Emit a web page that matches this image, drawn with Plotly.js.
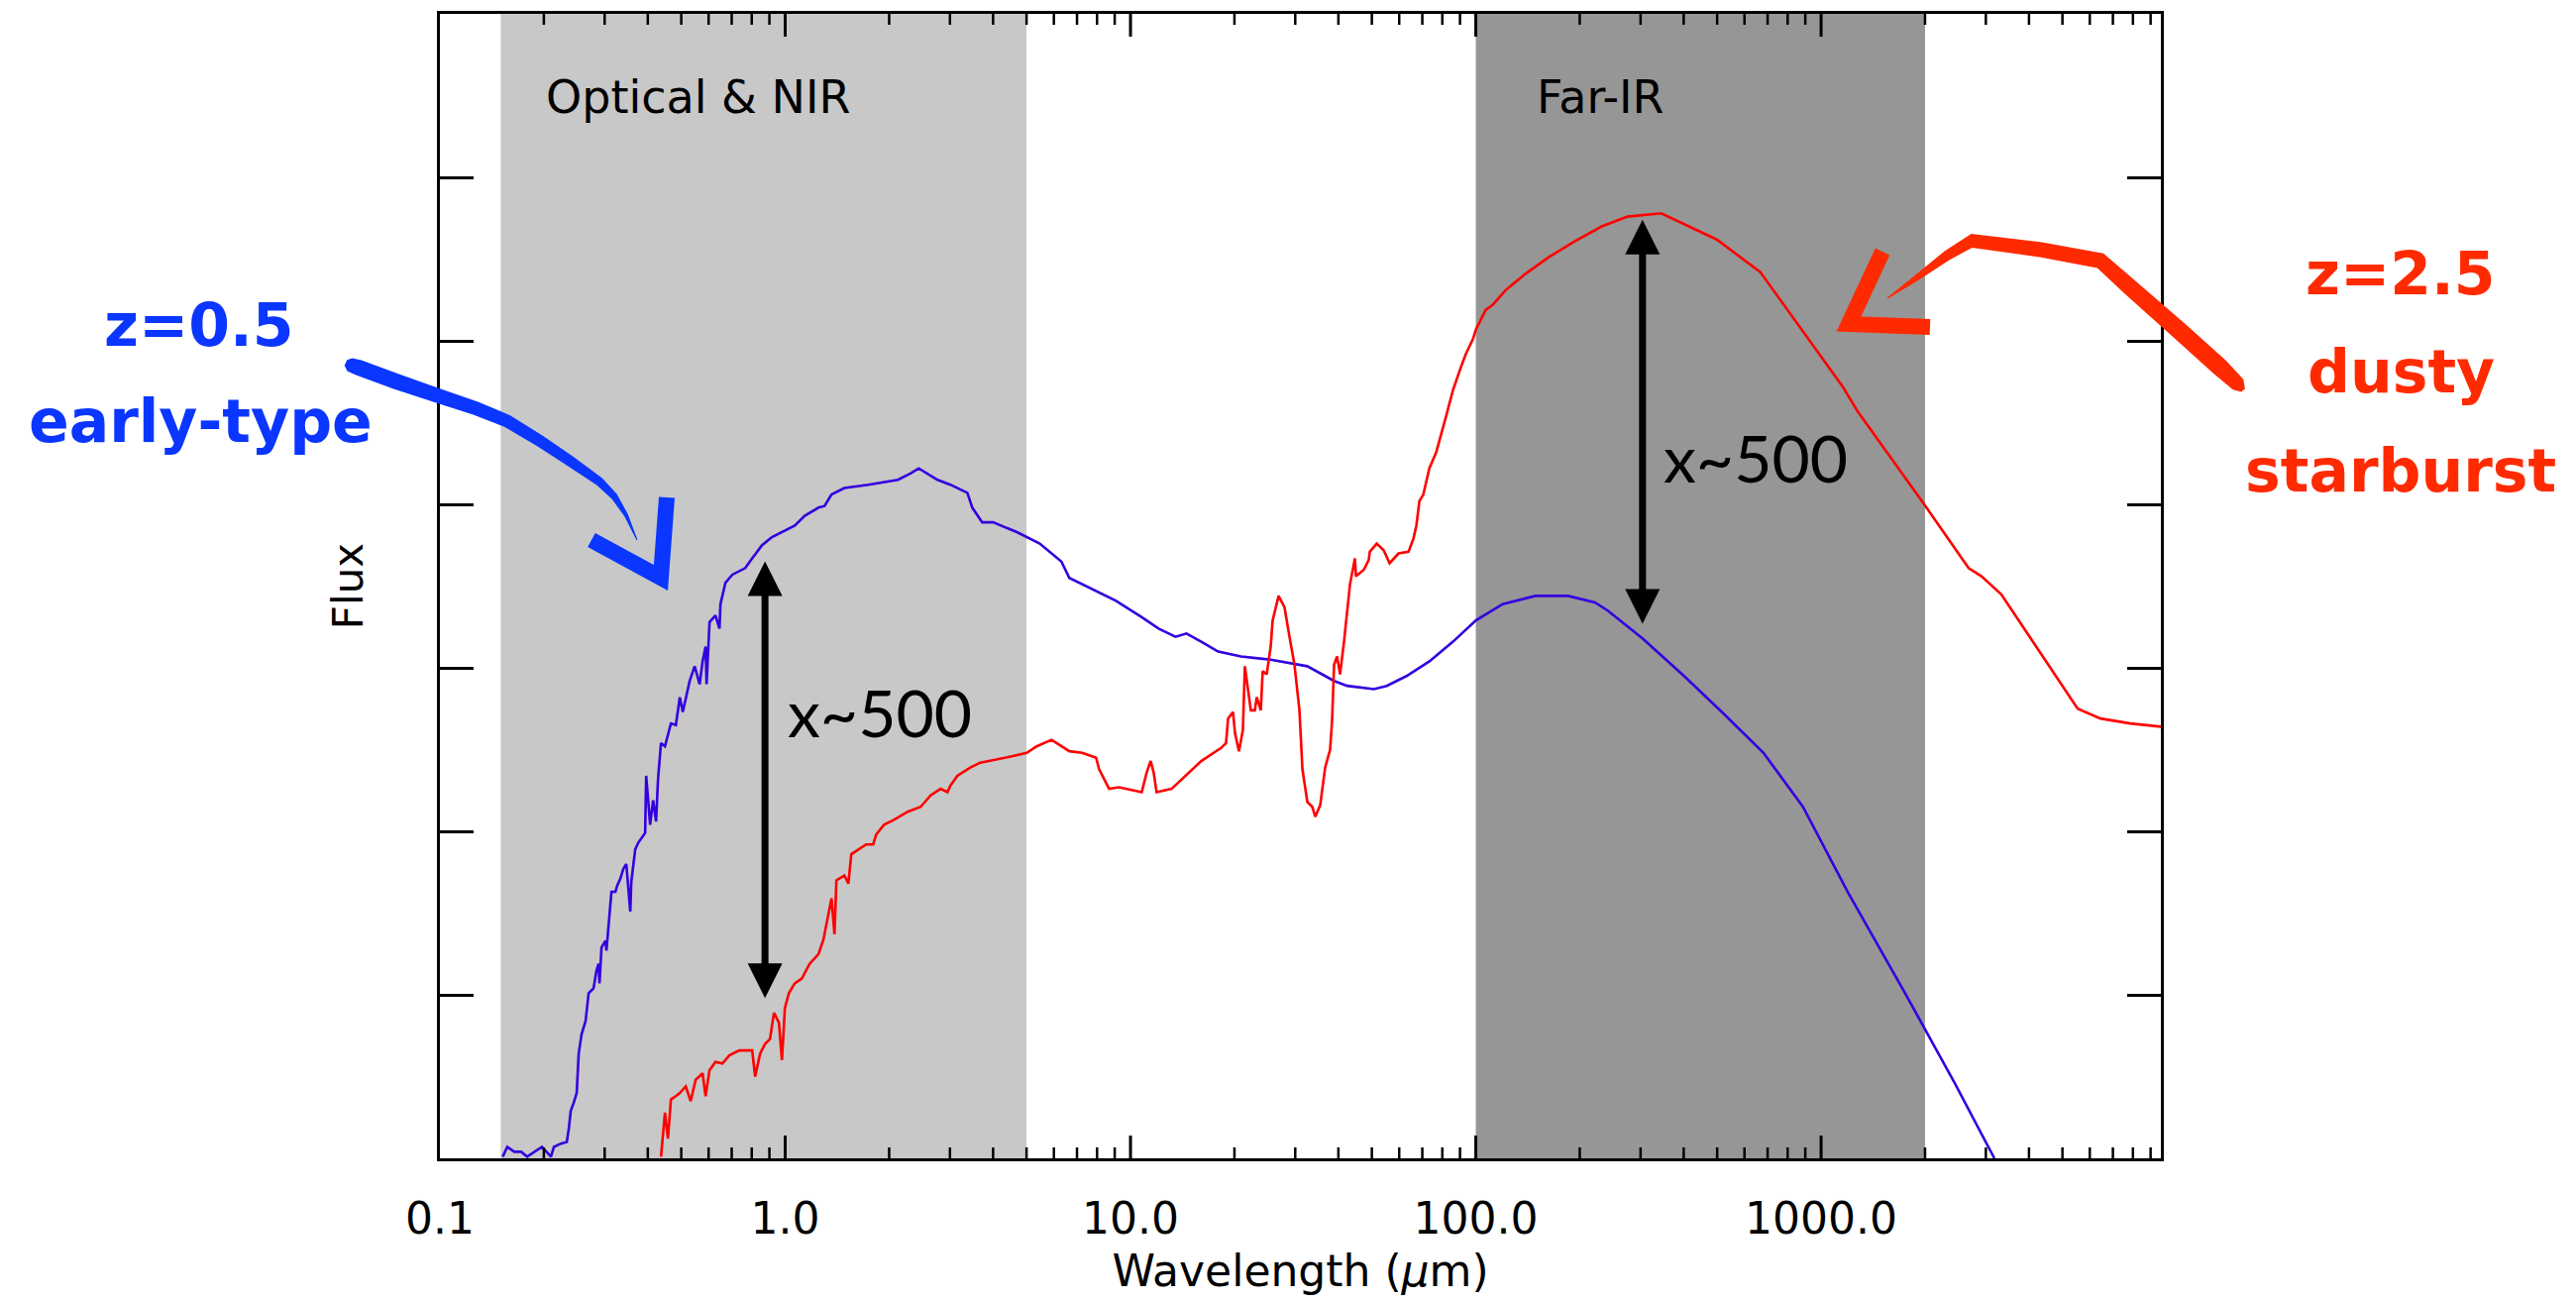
<!DOCTYPE html>
<html>
<head>
<meta charset="utf-8">
<script src="https://cdn.plot.ly/plotly-3.0.1.min.js"></script>
<style>
  html, body { margin: 0; padding: 0; background: #ffffff; }
  #chart { width: 2600px; height: 1314px; }
</style>
</head>
<body>
<div id="chart"></div>
<script>
// Spectral energy distributions: wavelength in microns, flux as log10 (arbitrary units)
const earlyWavelength = [
  0.152, 0.1567, 0.1642, 0.1719, 0.1789, 0.1874, 0.1975, 0.2097, 0.2139, 0.224,
  0.2331, 0.2362, 0.2393, 0.2441, 0.249, 0.2523, 0.2573, 0.2642, 0.2696, 0.2786,
  0.2842, 0.288, 0.2899, 0.2938, 0.3017, 0.3036, 0.3077, 0.3139, 0.3223, 0.3265,
  0.3331, 0.3397, 0.3466, 0.3559, 0.3583, 0.3679, 0.3753, 0.393, 0.3957, 0.4063,
  0.4144, 0.4227, 0.4283, 0.4368, 0.4485, 0.4667, 0.4823, 0.4952, 0.5051, 0.529,
  0.5468, 0.5652, 0.5765, 0.5881, 0.592, 0.6038, 0.6283, 0.6451, 0.6494, 0.6712,
  0.703, 0.7362, 0.7661, 0.8024, 0.857, 0.9157, 0.998, 1.066, 1.139, 1.249,
  1.300, 1.362, 1.484, 1.739, 2.121, 2.311, 2.436, 2.762, 3.010, 3.369,
  3.482, 3.720, 4.000, 4.688, 5.458, 6.31, 6.65, 7.60, 9.08, 10.78,
  12.06, 13.50, 14.52, 16.03, 17.94, 20.89, 25.47, 32.5, 38.9, 42.4,
  50.7, 55.2, 63.0, 73.4, 85.9, 100.1, 119.6, 148.8, 185.1, 221.2,
  241.1, 303.8, 401.1, 522, 681, 886, 1194, 1751, 2438, 3176
];
const earlyLogFlux = [
  0.01, 0.07, 0.04, 0.04, 0.01, 0.04, 0.07, 0.01, 0.07, 0.09,
  0.10, 0.18, 0.29, 0.34, 0.40, 0.64, 0.76, 0.84, 1.01, 1.04,
  1.15, 1.19, 1.07, 1.29, 1.33, 1.27, 1.41, 1.63, 1.63, 1.67,
  1.71, 1.77, 1.80, 1.51, 1.69, 1.89, 1.93, 1.99, 2.34, 2.04,
  2.19, 2.06, 2.32, 2.54, 2.52, 2.66, 2.65, 2.82, 2.73, 2.92,
  3.01, 2.90, 3.04, 3.13, 2.90, 3.28, 3.32, 3.24, 3.39, 3.52,
  3.57, 3.59, 3.61, 3.67, 3.75, 3.80, 3.84, 3.87, 3.93, 3.98,
  3.99, 4.06, 4.10, 4.12, 4.15, 4.19, 4.22, 4.15, 4.12, 4.07,
  3.98, 3.89, 3.89, 3.83, 3.76, 3.65, 3.55, 3.49, 3.41, 3.31,
  3.24, 3.19, 3.21, 3.16, 3.10, 3.07, 3.05, 3.01, 2.92, 2.89,
  2.87, 2.89, 2.95, 3.04, 3.16, 3.29, 3.39, 3.44, 3.44, 3.40,
  3.35, 3.18, 2.95, 2.72, 2.48, 2.15, 1.63, 1.01, 0.46, 0.0
];

const dustyWavelength = [
  0.4368, 0.4426, 0.4485, 0.4575, 0.4667, 0.4823, 0.4952, 0.5152, 0.5325, 0.5504,
  0.5765, 0.5881, 0.6038, 0.6283, 0.658, 0.6891, 0.7362, 0.8024, 0.8185, 0.8459,
  0.8744, 0.9036, 0.9279, 0.9592, 0.9784, 0.998, 1.025, 1.066, 1.117, 1.177,
  1.249, 1.291, 1.335, 1.362, 1.389, 1.407, 1.484, 1.524, 1.554, 1.628,
  1.716, 1.798, 1.834, 1.933, 2.065, 2.265, 2.468, 2.637, 2.818, 2.951,
  3.010, 3.152, 3.436, 3.671, 4.107, 4.564, 5.006, 5.350, 5.906, 6.653,
  7.25, 7.95, 8.11, 8.67, 9.26, 10.78, 11.14, 11.44, 11.67, 11.90,
  13.15, 16.03, 18.30, 18.91, 19.17, 19.81, 20.08, 20.61, 21.16, 21.44,
  22.31, 22.91, 23.21, 23.84, 24.15, 24.80, 25.47, 25.80, 26.85, 27.93,
  28.87, 29.84, 30.85, 31.47, 32.52, 33.61, 34.28, 35.43, 36.62, 37.85,
  38.36, 38.87, 39.65, 40.45, 41.53, 43.21, 44.67, 44.96, 47.41, 48.98,
  49.32, 51.65, 54.09, 56.28, 59.74, 63.83, 65.97, 67.29, 68.65, 70.47,
  73.35, 76.83, 82.06, 85.93, 90.6, 93.6, 98.1, 100.1, 106.9, 111.9,
  122.0, 139.3, 162.1, 193.8, 231.6, 275.1, 344.4, 498.8, 667.2, 1155,
  1275, 1959, 2674, 2914, 3325, 4333, 5534, 6442, 7857, 9640
];
const dustyLogFlux = [
  0.01, 0.16, 0.28, 0.12, 0.36, 0.38, 0.40, 0.44, 0.35, 0.48,
  0.52, 0.38, 0.54, 0.59, 0.58, 0.63, 0.66, 0.66, 0.50, 0.64,
  0.70, 0.73, 0.89, 0.83, 0.60, 0.92, 1.01, 1.07, 1.10, 1.19,
  1.25, 1.34, 1.51, 1.59, 1.37, 1.70, 1.73, 1.68, 1.86, 1.89,
  1.92, 1.92, 1.98, 2.04, 2.07, 2.12, 2.15, 2.22, 2.26, 2.24,
  2.28, 2.34, 2.39, 2.42, 2.44, 2.46, 2.48, 2.52, 2.56, 2.49,
  2.48, 2.45, 2.38, 2.26, 2.27, 2.24, 2.36, 2.43, 2.36, 2.24,
  2.26, 2.43, 2.51, 2.54, 2.69, 2.73, 2.60, 2.49, 2.62, 3.01,
  2.74, 2.74, 2.82, 2.74, 2.98, 2.96, 3.13, 3.29, 3.44, 3.37,
  3.19, 3.02, 2.74, 2.38, 2.18, 2.15, 2.09, 2.16, 2.39, 2.50,
  2.68, 3.02, 3.07, 2.96, 3.16, 3.51, 3.67, 3.56, 3.60, 3.66,
  3.71, 3.76, 3.72, 3.64, 3.70, 3.71, 3.79, 3.87, 4.02, 4.06,
  4.22, 4.32, 4.54, 4.70, 4.84, 4.92, 5.01, 5.07, 5.19, 5.22,
  5.31, 5.41, 5.51, 5.61, 5.70, 5.76, 5.78, 5.62, 5.42, 4.72,
  4.57, 4.02, 3.61, 3.56, 3.45, 3.09, 2.75, 2.69, 2.66, 2.64
];

// Shaded wavelength windows (microns)
const bandNames = ['Optical & NIR', 'Far-IR'];
const bandStart = [0.15, 100];
const bandEnd = [5, 2000];

// Axis ticks
const xTickValues = [0.1, 1, 10, 100, 1000];
const xTickLabels = ['0.1', '1.0', '10.0', '100.0', '1000.0'];
const minorDigits = [2, 3, 4, 5, 6, 7, 8, 9];

// Flux-ratio arrows: wavelength and log-flux of both ends
const ratioLabel = 'x~500';
const ratioWavelength = [0.874, 304];
const ratioLow = [0.98, 3.27];
const ratioHigh = [3.66, 5.75];

// Plot frame in page pixels
const FRAME = { left: 444, right: 2181, top: 14, bottom: 1169 };
const PLOT_H = FRAME.bottom - FRAME.top;
const toPaper = (X, Y) => [
  (X - FRAME.left) / (FRAME.right - FRAME.left),
  (FRAME.bottom - Y) / PLOT_H
];
const pathFrom = pts => pts.map((p, i) => {
  const q = toPaper(p[0], p[1]);
  return (i === 0 ? 'M' : 'L') + q[0].toFixed(5) + ',' + q[1].toFixed(5);
}).join(' ');

const axisFont = 'DejaVu Sans, sans-serif';
const handFont = 'DejaVu Sans, sans-serif';
const BLUE_INK = '#0a36ff';
const RED_INK = '#ff2a00';
const X_LOG_RANGE = [-1, 3.984];

// minor tick positions: digits 2..9 within every decade shown
const minorTickValues = [];
xTickValues.forEach(decade => minorDigits.forEach(d => minorTickValues.push(d * decade)));

// Inward tick marks on the bottom and top frame edges
function frameTicks(vals, lenPx, width) {
  const h = lenPx / PLOT_H;
  const lo = Math.pow(10, X_LOG_RANGE[0]), hi = Math.pow(10, X_LOG_RANGE[1]);
  const out = [];
  vals.filter(v => v > lo && v < hi).forEach(v => {
    out.push({ type: 'line', xref: 'x', yref: 'paper', x0: v, x1: v, y0: 0, y1: h,
               line: { color: '#000', width: width }, layer: 'above' });
    out.push({ type: 'line', xref: 'x', yref: 'paper', x0: v, x1: v, y0: 1 - h, y1: 1,
               line: { color: '#000', width: width }, layer: 'above' });
  });
  return out;
}

// Tapered brush stroke: centre line points [X, Y, width] filled as one outline
function brush(points, color) {
  const left = [], right = [];
  points.forEach((p, i) => {
    const a = points[Math.max(i - 1, 0)], b = points[Math.min(i + 1, points.length - 1)];
    const dx = b[0] - a[0], dy = b[1] - a[1], n = Math.hypot(dx, dy) || 1;
    const nx = -dy / n, ny = dx / n, h = p[2] / 2;
    left.push([p[0] + nx * h, p[1] + ny * h]);
    right.push([p[0] - nx * h, p[1] - ny * h]);
  });
  return {
    type: 'path', xref: 'paper', yref: 'paper', layer: 'above',
    path: pathFrom(left.concat(right.reverse())) + ' Z',
    fillcolor: color, line: { width: 0 }
  };
}

// Plain pen stroke along a polyline
function pen(points, width, color) {
  return {
    type: 'path', xref: 'paper', yref: 'paper', path: pathFrom(points), layer: 'above',
    line: { color: color, width: width }
  };
}

const bandColors = ['#c8c8c8', '#969696'];
const shapes = bandStart.map((s, i) => ({
  type: 'rect', xref: 'x', yref: 'paper',
  x0: s, x1: bandEnd[i], y0: 0, y1: 1,
  fillcolor: bandColors[i], line: { width: 0 }, layer: 'below'
}));

shapes.push(...frameTicks(minorTickValues, 11, 2.5));
shapes.push(...frameTicks(xTickValues, 23, 3));

// blue pointer (early-type)
shapes.push(brush([
  [349, 366, 6], [353, 368, 14], [362, 371, 16], [400, 385, 16], [441, 399, 15],
  [480, 412, 14], [512, 425, 13], [545, 445, 12], [575, 465, 11], [605, 486, 9],
  [620, 501, 7], [632, 520, 4], [643, 545, 1]
], BLUE_INK));
shapes.push(pen([[597, 545], [667, 583], [673, 502]], 16, BLUE_INK));

// red pointer (dusty starburst)
shapes.push(brush([
  [2264, 394, 5], [2259, 388, 15], [2240, 370, 18], [2200, 334, 18], [2150, 290, 17],
  [2120, 263, 16], [2060, 252, 15], [1990, 243, 14], [1965, 258, 10], [1935, 280, 6],
  [1905, 301, 1]
], RED_INK));
shapes.push(pen([[1900, 254], [1866, 327], [1948, 330]], 16, RED_INK));

const annotations = [];

// region labels
const bandLabelX = [0.2, 148];
bandNames.forEach((name, i) => {
  annotations.push({
    xref: 'x', yref: 'y', x: Math.log10(bandLabelX[i]), y: 6.49,
    xanchor: 'left', yanchor: 'middle', showarrow: false, text: name,
    font: { family: axisFont, size: 46, color: '#000' }
  });
});

// double-headed ratio arrows and labels
const ratioTextX = [1.0, 344];
const ratioTextY = [2.73, 4.29];
ratioWavelength.forEach((w, i) => {
  annotations.push({
    xref: 'x', yref: 'y', axref: 'x', ayref: 'y',
    x: Math.log10(w), y: ratioLow[i], ax: Math.log10(w), ay: ratioHigh[i],
    text: '', showarrow: true, arrowside: 'end+start',
    arrowhead: 2, startarrowhead: 2, arrowsize: 1, startarrowsize: 1,
    arrowwidth: 7, arrowcolor: '#000', standoff: 0, startstandoff: 0
  });
  annotations.push({
    xref: 'x', yref: 'y', x: Math.log10(ratioTextX[i]), y: ratioTextY[i],
    xanchor: 'left', yanchor: 'middle', showarrow: false, text: ratioLabel,
    font: { family: 'Lato, Open Sans, sans-serif', size: 66, color: '#000' }
  });
});

// handwritten galaxy labels
function handLabel(text, X, Y, color) {
  const q = toPaper(X, Y);
  return {
    xref: 'paper', yref: 'paper', x: q[0], y: q[1], xanchor: 'center', yanchor: 'middle',
    showarrow: false, text: '<b>' + text + '</b>',
    font: { family: handFont, size: 60, color: color }
  };
}
annotations.push(handLabel('z=0.5', 200, 328, BLUE_INK));
annotations.push(handLabel('early-type', 202, 425, BLUE_INK));
annotations.push(handLabel('z=2.5', 2422, 276, RED_INK));
annotations.push(handLabel('dusty', 2423, 375, RED_INK));
annotations.push(handLabel('starburst', 2423, 475, RED_INK));

const traces = [
  {
    x: earlyWavelength, y: earlyLogFlux, type: 'scatter', mode: 'lines',
    name: 'z=0.5 early-type', line: { color: '#3300e0', width: 2.6 }
  },
  {
    x: dustyWavelength, y: dustyLogFlux, type: 'scatter', mode: 'lines',
    name: 'z=2.5 dusty starburst', line: { color: '#ff0000', width: 2.6 }
  }
];

const layout = {
  width: 2600, height: 1314,
  margin: { l: FRAME.left, r: 2600 - FRAME.right, t: FRAME.top, b: 1314 - FRAME.bottom },
  paper_bgcolor: '#ffffff', plot_bgcolor: '#ffffff',
  showlegend: false,
  xaxis: {
    type: 'log', range: X_LOG_RANGE,
    tickmode: 'array', tickvals: xTickValues, ticktext: xTickLabels,
    ticks: '',
    showline: true, linewidth: 3, linecolor: '#000', mirror: true,
    showgrid: false, zeroline: false,
    ticklabelstandoff: 20,
    tickfont: { family: axisFont, size: 44, color: '#000' },
    title: { text: 'Wavelength (<i>\u03bc</i>m)', standoff: 14,
             font: { family: axisFont, size: 44, color: '#000' } }
  },
  yaxis: {
    range: [0, 7], tickmode: 'linear', tick0: 0, dtick: 1,
    ticks: 'inside', ticklen: 34, tickwidth: 3, tickcolor: '#000',
    showticklabels: false,
    showline: true, linewidth: 3, linecolor: '#000', mirror: 'allticks',
    showgrid: false, zeroline: false,
    title: { text: 'Flux', standoff: 62, font: { family: axisFont, size: 42, color: '#000' } }
  },
  shapes: shapes,
  annotations: annotations
};

Plotly.newPlot('chart', traces, layout, { staticPlot: true, displayModeBar: false });
</script>
</body>
</html>
